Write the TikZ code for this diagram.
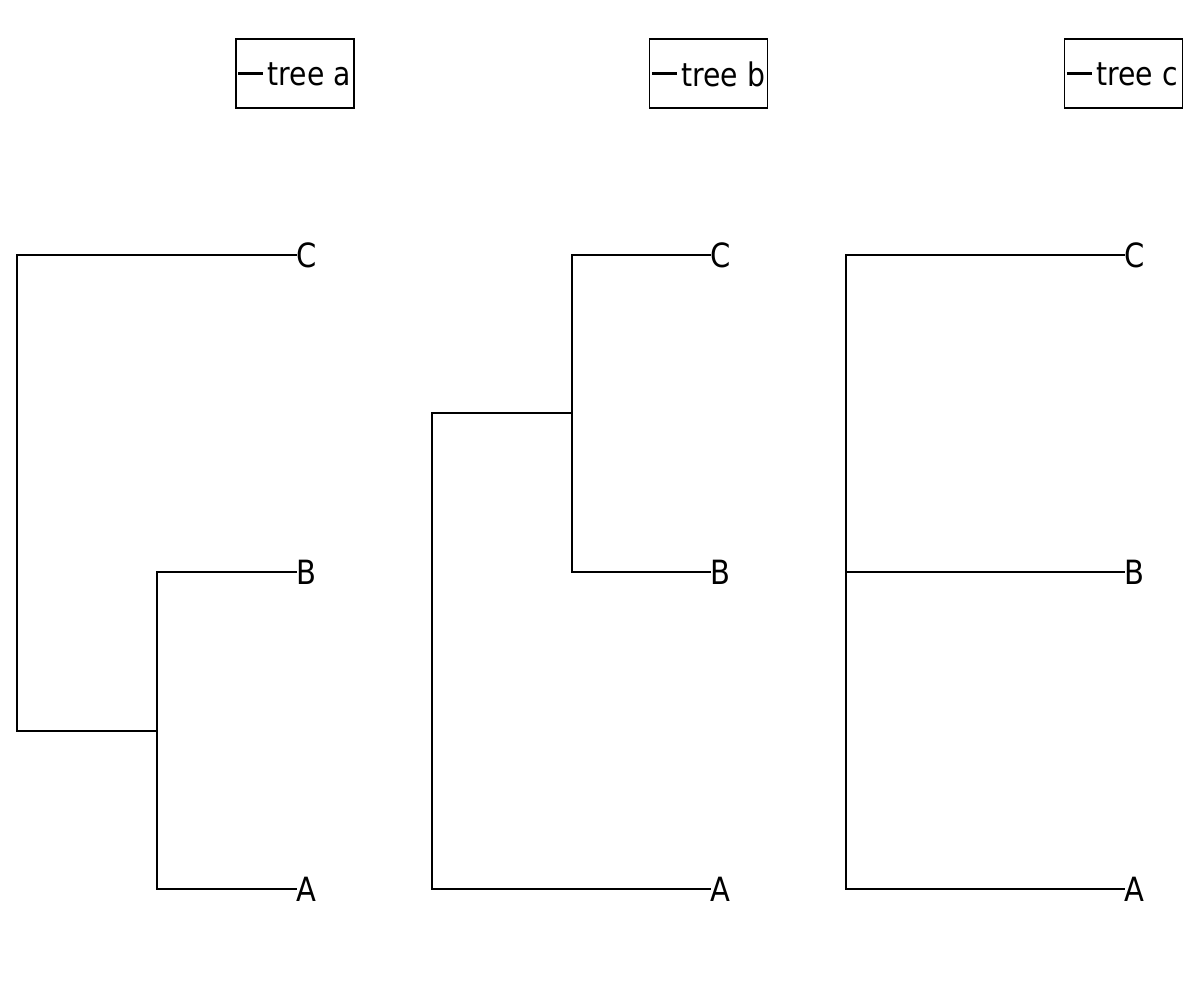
\documentclass[tikz,border=0pt]{standalone}
\usepackage{fontspec}
\setmainfont{DejaVu Sans}[FakeStretch=0.87]
\usepackage{tikz}
\usetikzlibrary{positioning}
\usetikzlibrary{calc}

\tikzset{
	branch/.style={line width=1.3pt, line cap=rect},
	leaf/.style={anchor=west, inner sep=0pt, font=\fontsize{19}{22}\selectfont},
	legendbox/.style={draw, line width=0.6pt, minimum width=2.36cm, minimum height=1.38cm, inner sep=0pt},
	legendtext/.style={anchor=west, inner sep=0pt, font=\fontsize{18.5}{22}\selectfont}
}

\begin{document}
\begin{tikzpicture}[x=0.02cm, y=-0.02cm]
		\useasboundingbox (0,0) rectangle (1200,1000);
		
		% tree a: ((A,B),C)
		\node at (296,255) [leaf] (aC) {C};
		\node at (296,572) [leaf] (aB) {B};
		\node at (296,889) [leaf] (aA) {A};
		\coordinate (aroot) at (17,731);
		\coordinate (aAB) at (157,731);
		\draw [branch] (aroot) |- (aC.west);
		\draw [branch] (aroot) -- (aAB);
		\draw [branch] (aAB) |- (aB.west);
		\draw [branch] (aAB) |- (aA.west);
		
		% tree b: (A,(B,C))
		\node at (710,255) [leaf] (bC) {C};
		\node at (710,572) [leaf] (bB) {B};
		\node at (710,889) [leaf] (bA) {A};
		\coordinate (broot) at (432,413);
		\coordinate (bBC) at (572,413);
		\draw [branch] (broot) |- (bA.west);
		\draw [branch] (broot) -- (bBC);
		\draw [branch] (bBC) |- (bC.west);
		\draw [branch] (bBC) |- (bB.west);
		
		% tree c: (A,B,C)
		\node at (1124,255) [leaf] (cC) {C};
		\node at (1124,572) [leaf] (cB) {B};
		\node at (1124,889) [leaf] (cA) {A};
		\coordinate (croot) at (846,572);
		\draw [branch] (croot) |- (cC.west);
		\draw [branch] (croot) -- (cB.west);
		\draw [branch] (croot) |- (cA.west);
		
		% legends
		\node at (295,73.5) [legendbox] (lega) {};
		\draw [branch, line cap=butt] ($(lega.west)+(3,0)$) -- ($(lega.west)+(28,0)$);
		\node at ($(lega.west)+(32,0.5)$) [legendtext] (legatext) {tree a};
		
		\node at (708.5,73.5) [legendbox] (legb) {};
		\draw [branch, line cap=butt] ($(legb.west)+(3,0)$) -- ($(legb.west)+(28,0)$);
		\node at ($(legb.west)+(32,0.5)$) [legendtext] (legbtext) {tree b};
		
		\node at (1123.5,73.5) [legendbox] (legc) {};
		\draw [branch, line cap=butt] ($(legc.west)+(3,0)$) -- ($(legc.west)+(28,0)$);
		\node at ($(legc.west)+(32,0.5)$) [legendtext] (legctext) {tree c};
		
\end{tikzpicture}
\end{document}
